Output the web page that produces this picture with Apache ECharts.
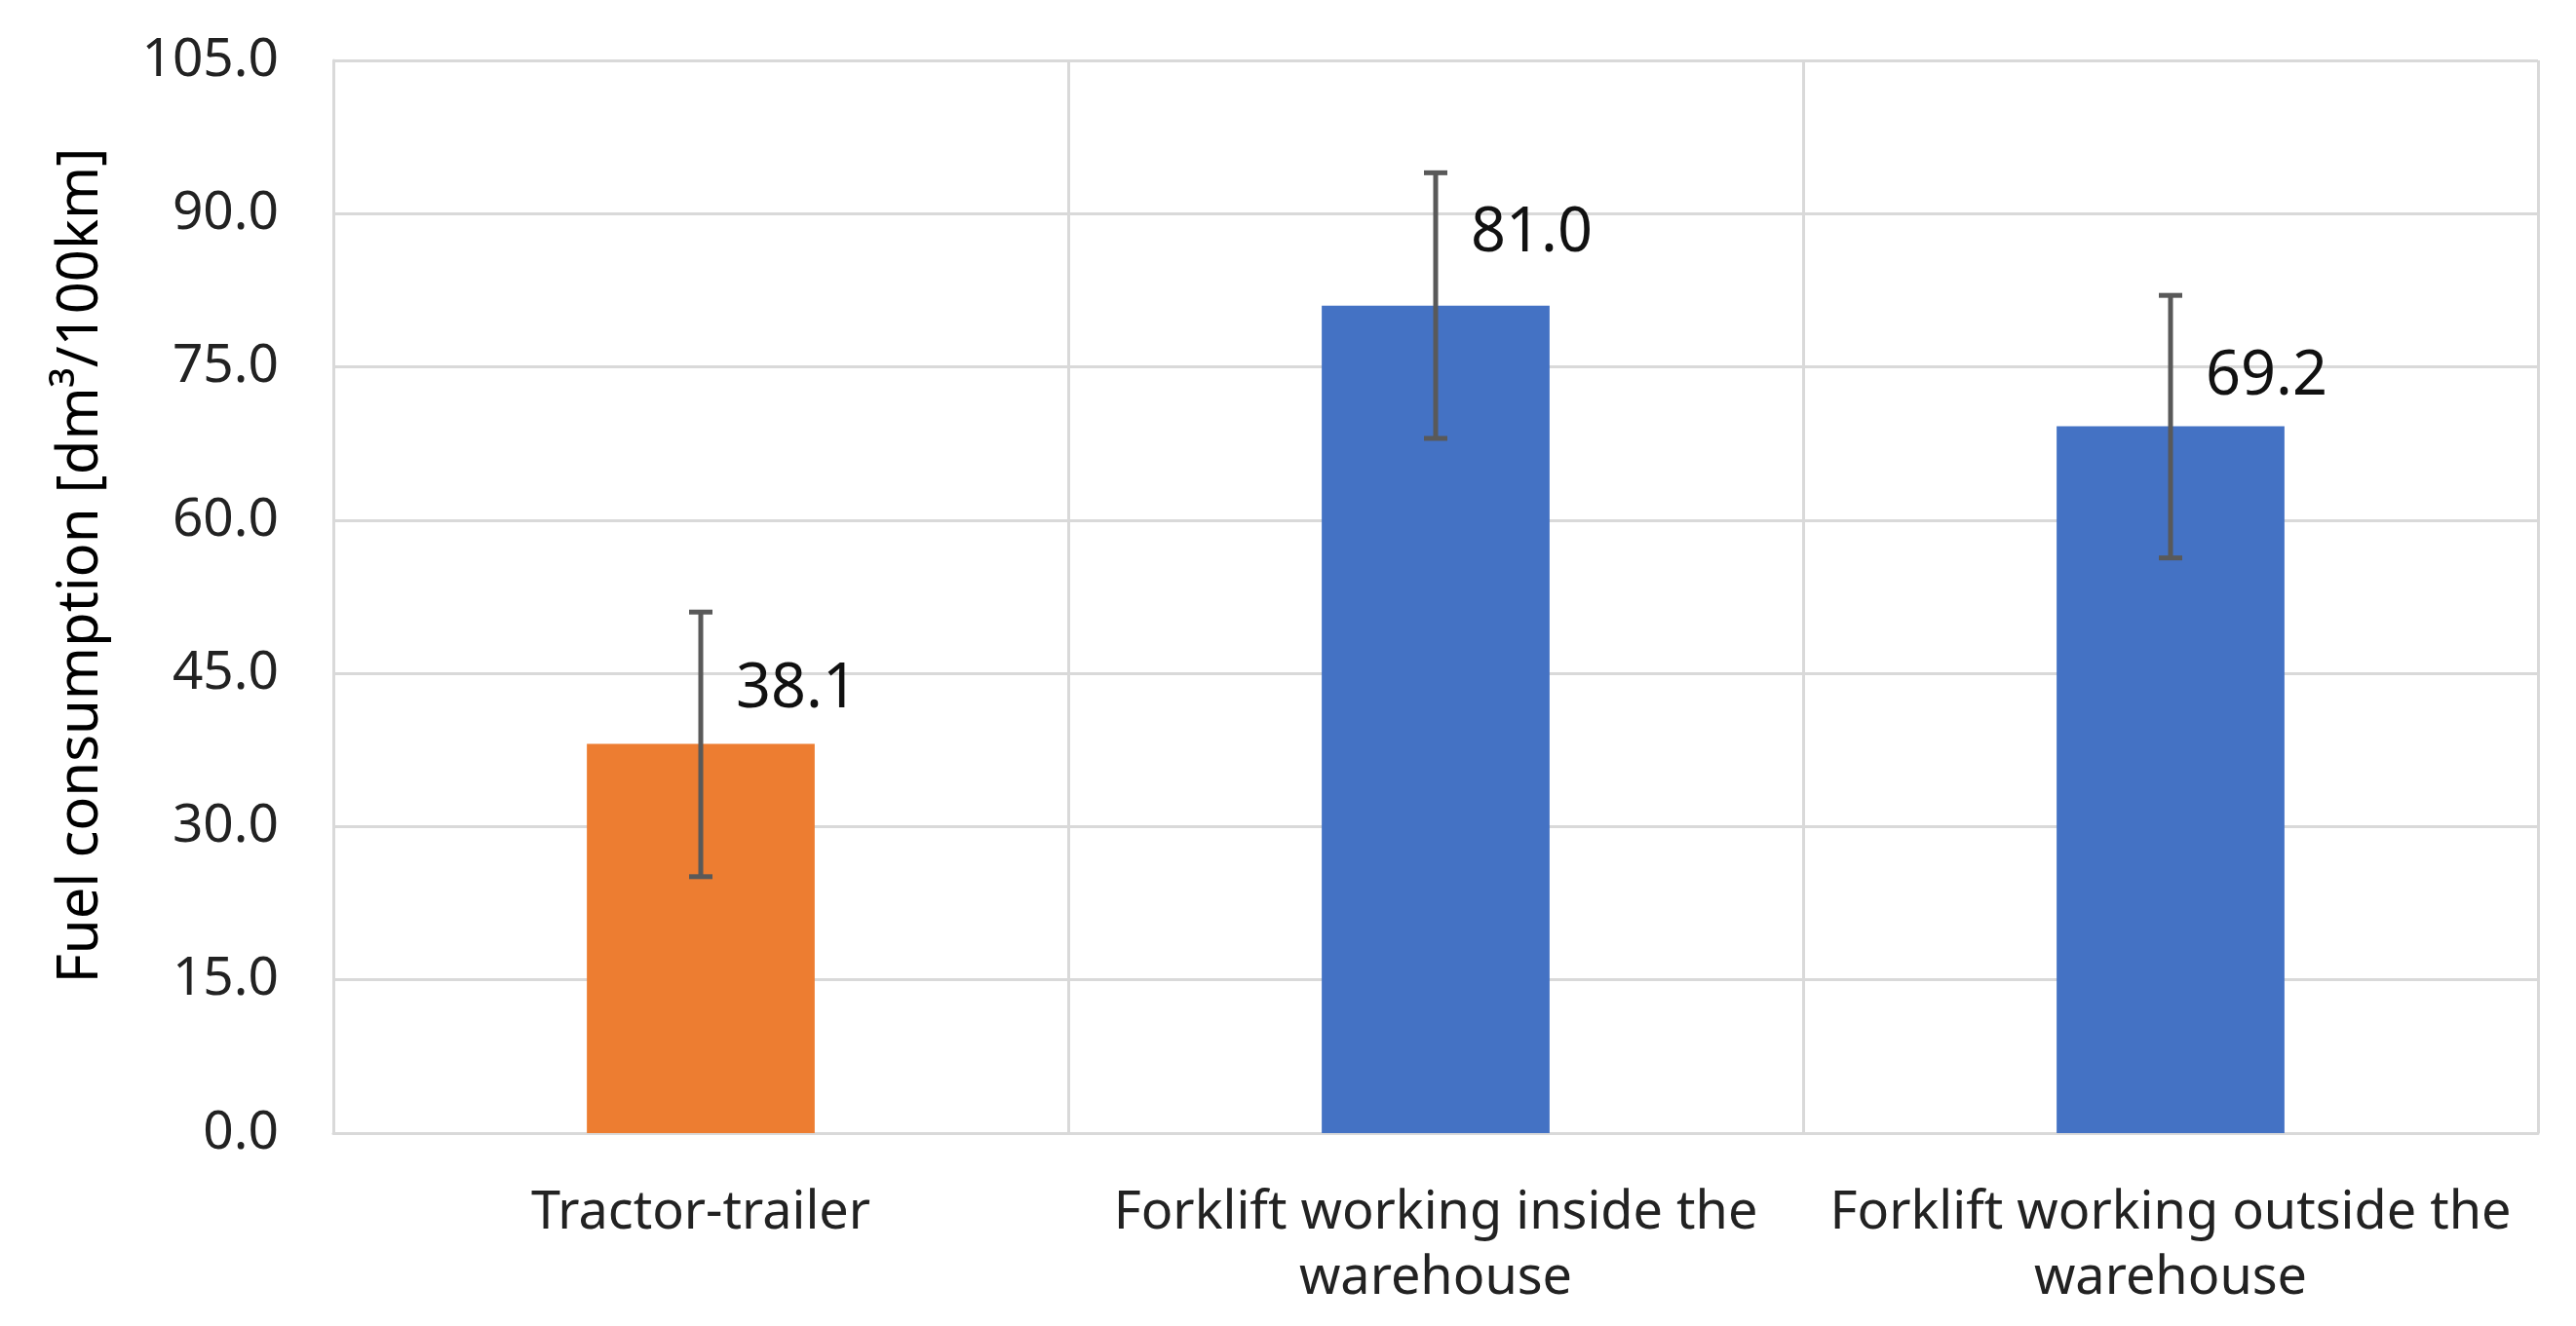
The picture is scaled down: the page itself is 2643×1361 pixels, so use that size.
<!DOCTYPE html>
<html>
<head>
<meta charset="utf-8">
<script src="https://cdn.jsdelivr.net/npm/echarts@6/dist/echarts.min.js"></script>
<style>
  html, body { margin: 0; padding: 0; background: #fff; }
  #chart { width: 2643px; height: 1361px; }
</style>
</head>
<body>
<div id="chart"></div>
<script>
// categories and values
var categories = ['Tractor-trailer', 'Forklift working inside the\nwarehouse', 'Forklift working outside the\nwarehouse'];
var fuel = [38.1, 81.0, 69.2];
var errLow = [25.1, 68.0, 56.3];
var errHigh = [51.0, 94.0, 82.0];
var barColors = ['#ED7D31', '#4472C4', '#4472C4'];
var yTicks = [0, 15, 30, 45, 60, 75, 90, 105];

var chart = echarts.init(document.getElementById('chart'));

var font = '"Noto Sans", sans-serif';
var gridColor = '#d9d9d9';
// labels were nudged by hand in the original, keep that
var labelDy = [-19, -37, -14];

var errData = [];
for (var i = 0; i < fuel.length; i++) {
  errData.push([i, errLow[i], errHigh[i]]);
}

var option = {
  backgroundColor: '#ffffff',
  animation: false,
  grid: { left: 342, right: 39, top: 62, bottom: 198 },
  xAxis: {
    type: 'category',
    data: categories,
    boundaryGap: true,
    axisLine: { show: true, lineStyle: { color: gridColor, width: 3 } },
    axisTick: { show: false },
    splitLine: { show: true, interval: 0, lineStyle: { color: gridColor, width: 3 } },
    axisLabel: {
      interval: 0,
      color: '#222',
      fontFamily: font,
      fontSize: 54,
      lineHeight: 67,
      margin: 49
    }
  },
  yAxis: {
    type: 'value',
    min: 0,
    max: yTicks[yTicks.length - 1],
    interval: 15,
    name: 'Fuel consumption [dm³/100km]',
    nameLocation: 'middle',
    nameGap: 230,
    nameTextStyle: { color: '#000', fontFamily: font, fontSize: 58, padding: [0, 0, 0, 64] },
    axisLine: { show: true, lineStyle: { color: gridColor, width: 3 } },
    axisTick: { show: false },
    splitLine: { lineStyle: { color: gridColor, width: 3 } },
    axisLabel: {
      color: '#222',
      fontFamily: font,
      fontSize: 55,
      margin: 56,
      formatter: function (v) { return v.toFixed(1); }
    }
  },
  series: [{
    type: 'bar',
    barWidth: '31%',
    data: fuel.map(function (v, i) {
      return {
        value: v,
        itemStyle: { color: barColors[i] },
        label: { offset: [36, labelDy[i]] }
      };
    }),
    label: {
      show: true,
      position: 'top',
      align: 'left',
      color: '#111',
      fontFamily: font,
      fontSize: 63,
      formatter: function (p) { return p.value.toFixed(1); }
    },
    z: 2
  }, {
    type: 'custom',
    data: errData,
    z: 5,
    renderItem: function (params, api) {
      var x = api.value(0);
      var lo = api.coord([x, api.value(1)]);
      var hi = api.coord([x, api.value(2)]);
      var cap = 12;
      var style = { stroke: '#595959', lineWidth: 5 };
      return {
        type: 'group',
        children: [
          { type: 'line', shape: { x1: hi[0], y1: hi[1], x2: lo[0], y2: lo[1] }, style: style },
          { type: 'line', shape: { x1: hi[0] - cap, y1: hi[1], x2: hi[0] + cap, y2: hi[1] }, style: style },
          { type: 'line', shape: { x1: lo[0] - cap, y1: lo[1], x2: lo[0] + cap, y2: lo[1] }, style: style }
        ]
      };
    }
  }]
};

chart.setOption(option);
</script>
</body>
</html>
